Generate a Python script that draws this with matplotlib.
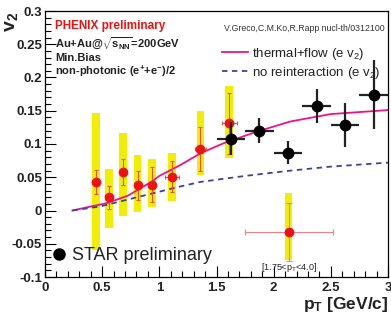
import numpy as np
import matplotlib
matplotlib.use('Agg')
import matplotlib.pyplot as plt
from matplotlib.lines import Line2D

plt.rcParams['font.family'] = ['Liberation Sans', 'DejaVu Sans']
plt.rcParams['mathtext.fontset'] = 'custom'
plt.rcParams['mathtext.rm'] = 'Liberation Sans'
plt.rcParams['mathtext.it'] = 'Liberation Sans'
plt.rcParams['mathtext.bf'] = 'Liberation Sans:bold'

# PHENIX non-photonic electrons
phenix_pt = [0.447, 0.558, 0.684, 0.81, 0.936, 1.108, 1.36, 1.61]
phenix_v2 = [0.043, 0.020, 0.058, 0.038, 0.039, 0.051, 0.093, 0.131]
phenix_stat = [0.018, 0.017, 0.019, 0.022, 0.026, 0.023, 0.033, 0.046]
phenix_xerr = [0, 0, 0, 0, 0, 0.06, 0.05, 0.065]
phenix_sys_lo = [-0.059, -0.026, -0.009, -0.003, 0.005, 0.014, 0.053, 0.079]
phenix_sys_hi = [0.146, 0.063, 0.116, 0.084, 0.078, 0.086, 0.150, 0.187]

# wide bin point 1.75<pT<4.0
wide_pt = 2.13
wide_v2 = -0.032
wide_stat = 0.044
wide_xlo, wide_xhi = 1.75, 2.52
wide_sys = (-0.075, 0.026)

# STAR
star_pt = [1.625, 1.875, 2.125, 2.375, 2.625, 2.875]
star_v2 = [0.108, 0.120, 0.087, 0.157, 0.128, 0.174]
star_yerr = [0.025, 0.019, 0.017, 0.026, 0.033, 0.052]
star_xerr = [0.125] * 6

# theory curves (Greco, Ko, Rapp)
thermal_pt = [0.24, 0.4, 0.54, 0.73, 0.83, 0.94, 1.0, 1.18, 1.36, 1.56, 1.86, 2.15, 2.5, 3.0]
thermal_v2 = [0.0, 0.006, 0.011, 0.0226, 0.033, 0.044, 0.052, 0.068, 0.086, 0.101, 0.119, 0.134, 0.145, 0.151]
noint_pt = [0.24, 0.48, 0.83, 1.18, 1.36, 1.75, 2.15, 2.5, 3.0]
noint_v2 = [0.0, 0.006, 0.021, 0.036, 0.043, 0.052, 0.060, 0.066, 0.072]

W, H = 391, 322
fig = plt.figure(figsize=(W / 100, H / 100), dpi=100)
ax = fig.add_axes([45 / W, 1 - 277 / H, 343 / W, 266 / H])

yellow = '#f2ee00'
red = '#ee1111'
dark = '#222222'
box_w = 0.068

for p, lo, hi in zip(phenix_pt, phenix_sys_lo, phenix_sys_hi):
    ax.bar(p, hi - lo, bottom=lo, width=box_w, color=yellow, zorder=1, linewidth=0)
ax.bar(wide_pt, wide_sys[1] - wide_sys[0], bottom=wide_sys[0], width=box_w,
       color=yellow, zorder=1, linewidth=0)

ax.plot(thermal_pt, thermal_v2, color='#ee1188', lw=1.3, zorder=2)
ax.plot(noint_pt, noint_v2, color='#4040a0', lw=1.3, ls=(0, (3, 2.5)), zorder=2)

ax.errorbar(phenix_pt, phenix_v2, yerr=phenix_stat, xerr=phenix_xerr, fmt='o',
            color=red, ms=6, ecolor='#e85040', elinewidth=0.8, capsize=1.5,
            capthick=0.8, zorder=3)
ax.errorbar([wide_pt], [wide_v2], yerr=[wide_stat],
            xerr=[[wide_pt - wide_xlo], [wide_xhi - wide_pt]], fmt='o',
            color=red, ms=6, ecolor='#f08080', elinewidth=0.8, capsize=2,
            capthick=0.8, zorder=3)
ax.errorbar(star_pt, star_v2, yerr=star_yerr, xerr=star_xerr, fmt='o',
            color='black', ms=7.5, ecolor=dark, elinewidth=1.6, capsize=0,
            zorder=4)

ax.set_xlim(0, 3)
ax.set_ylim(-0.1, 0.3)
ax.set_xticks(np.arange(0, 3.01, 0.5))
ax.set_xticklabels(['0', '0.5', '1', '1.5', '2', '2.5', '3'])
ax.set_yticks(np.arange(-0.1, 0.301, 0.05))
ax.set_yticklabels(['-0.1', '-0.05', '0', '0.05', '0.1', '0.15', '0.2', '0.25', '0.3'])
ax.set_xticks(np.arange(0, 3.01, 0.1), minor=True)
ax.set_yticks(np.arange(-0.1, 0.301, 0.01), minor=True)
ax.tick_params(which='both', direction='in', top=False, right=False,
               labelsize=9.5, width=0.8, labelcolor=dark)
ax.tick_params(which='major', length=8)
ax.tick_params(which='minor', length=4)
ax.tick_params(axis='y', pad=2)
for lab in ax.get_xticklabels() + ax.get_yticklabels():
    lab.set_fontweight('bold')
for s in ax.spines.values():
    s.set_linewidth(0.9)

fig.text(12 / W, 1 - 22 / H, r'$\mathbf{v_2}$', rotation=90, fontsize=14,
         ha='center', va='center', color=dark)
fig.text(388 / W, 1 - 305 / H, r'$\mathbf{p_T}$ [GeV/c]', fontsize=12.5,
         fontweight='bold', ha='right', va='center', color=dark)

ax.text(0.03, 0.945, 'PHENIX preliminary', transform=ax.transAxes, color=red,
        fontsize=8.5, fontweight='bold', va='center')
ax.text(0.03, 0.877, r'Au+Au@$\mathbf{\sqrt{s_{NN}}}$=200GeV', transform=ax.transAxes,
        fontsize=8, fontweight='bold', va='center', color=dark)
ax.text(0.03, 0.825, 'Min.Bias', transform=ax.transAxes, fontsize=8,
        fontweight='bold', va='center', color=dark)
ax.text(0.03, 0.772, r'non-photonic (e$\mathbf{^{+}}$+e$\mathbf{^{-}}$)/2',
        transform=ax.transAxes, fontsize=8, fontweight='bold', va='center',
        color=dark)
ax.text(0.99, 0.935, 'V.Greco,C.M.Ko,R.Rapp nucl-th/0312100',
        transform=ax.transAxes, fontsize=6.3, ha='right', va='center',
        color='#333333')
ax.text(wide_pt, -0.086, r'[1.75<p$_T$<4.0]', fontsize=6.5, ha='center',
        va='center', color=dark)

handles = [Line2D([], [], color='#ee1188', lw=1.3),
           Line2D([], [], color='#4040a0', lw=1.3, ls=(0, (3, 2.5)))]
leg = ax.legend(handles, [r'thermal+flow (e v$_2$)', r'no reinteraction (e v$_2$)'],
                loc='upper left', bbox_to_anchor=(0.516, 0.868), frameon=False,
                fontsize=9.5, handlelength=2.0, handletextpad=0.25,
                labelspacing=0.2, borderaxespad=0, borderpad=0)
for t in leg.get_texts():
    t.set_color(dark)
ax.add_artist(leg)
leg2 = ax.legend([Line2D([], [], color='black', marker='o', ls='', ms=8)],
                 ['STAR preliminary'], loc='lower left',
                 bbox_to_anchor=(0.0, 0.02), frameon=False, fontsize=13,
                 handlelength=0.8, handletextpad=0.3, borderaxespad=0)
for t in leg2.get_texts():
    t.set_color(dark)

fig.savefig('out.png', dpi=100)
